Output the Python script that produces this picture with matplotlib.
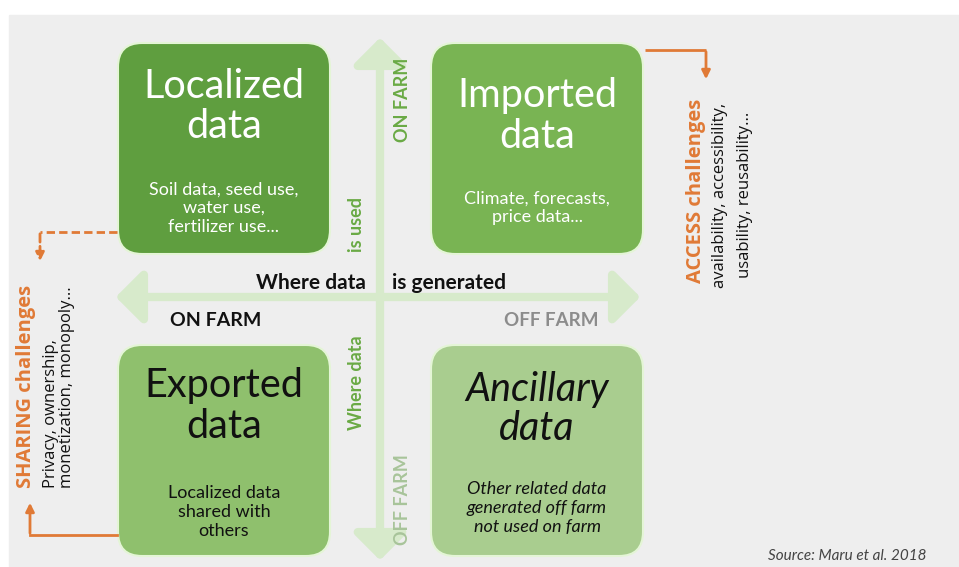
import matplotlib.pyplot as plt
from matplotlib.patches import FancyBboxPatch, FancyArrowPatch, Rectangle

plt.rcParams['font.family'] = ['Lato', 'DejaVu Sans']

# quadrant contents
titles = ["Localized\ndata", "Imported\ndata", "Exported\ndata", "Ancillary\ndata"]
subtitles = ["Soil data, seed use,\nwater use,\nfertilizer use...",
             "Climate, forecasts,\nprice data...",
             "Localized data\nshared with\nothers",
             "Other related data\ngenerated off farm\nnot used on farm"]
box_colors = ["#5f9e3f", "#79b453", "#8fc06d", "#a9cd8f"]
text_colors = ["white", "white", "#111111", "#111111"]
italic = [False, False, False, True]

axis_v = ["ON FARM", "is used", "Where data", "OFF FARM"]
axis_h = ["Where data", "is generated", "ON FARM", "OFF FARM"]

access_title = "ACCESS challenges"
access_lines = ["availability, accessibility,", "usability, reusability..."]
sharing_title = "SHARING challenges"
sharing_lines = ["Privacy, ownership,", "monetization, monopoly..."]
source = "Source: Maru et al. 2018"

orange = "#e07a36"
pale = "#d7eacb"
side_font = ["Open Sans", "DejaVu Sans"]

fig = plt.figure(figsize=(9.59, 5.67), dpi=100)
ax = fig.add_axes([0, 0, 1, 1])
ax.set_xlim(0, 959)
ax.set_ylim(567, 0)
ax.axis("off")

ax.add_patch(Rectangle((9, 15), 950, 552, color="#eeeeee", zorder=0))

# big two-headed arrows
ax.add_patch(FancyArrowPatch((113, 297), (643, 297), arrowstyle="<|-|>,head_length=1.0,head_width=1.0",
                             mutation_scale=16, lw=6, color=pale, zorder=1))
ax.add_patch(FancyArrowPatch((380, 35), (380, 563), arrowstyle="<|-|>,head_length=1.0,head_width=1.0",
                             mutation_scale=16, lw=6, color=pale, zorder=1))

# boxes
lefts = [118, 431, 118, 431]
tops = [43, 43, 345, 345]
title_y = [106, 116, 406, 409]
sub_y = [208, 208, 512, 508]
for i in range(4):
    ax.add_patch(FancyBboxPatch((lefts[i], tops[i]), 212, 211,
                                boxstyle="round,pad=0,rounding_size=24",
                                fc=box_colors[i], ec="#e4f5d6", lw=1.5, zorder=2))
    cx = lefts[i] + 106
    style = "italic" if italic[i] else "normal"
    ax.text(cx, title_y[i], titles[i], ha="center", va="center", fontsize=28.5,
            color=text_colors[i], style=style, linespacing=1.1, zorder=3)
    ax.text(cx, sub_y[i], subtitles[i], ha="center", va="center", fontsize=13,
            color=text_colors[i], style=style, linespacing=1.2, zorder=3)

# axis labels
green = "#6aaa45"
vx = [403, 357, 357, 403]
vy = [100, 225, 383, 500]
vcol = [green, green, green, "#a8c49a"]
for lab, x, y, c in zip(axis_v, vx, vy, vcol):
    ax.text(x, y, lab, rotation=90, ha="center", va="center", fontsize=13,
            fontweight="bold", color=c, zorder=3)

ax.text(366, 283, axis_h[0], ha="right", va="center", fontsize=15, fontweight="bold", color="#111111")
ax.text(392, 283, axis_h[1], ha="left", va="center", fontsize=15, fontweight="bold", color="#111111")
ax.text(216, 320, axis_h[2], ha="center", va="center", fontsize=14, fontweight="bold", color="#111111")
ax.text(551, 320, axis_h[3], ha="center", va="center", fontsize=13.5, fontweight="bold", color="#8c8c8c")

# access challenges
ax.plot([645, 706], [50, 50], color=orange, lw=2, solid_capstyle="butt")
ax.annotate("", xy=(706, 82), xytext=(706, 49),
            arrowprops=dict(arrowstyle="-|>,head_length=0.5,head_width=0.25", color=orange, lw=2))
ax.text(696, 191, access_title, rotation=90, ha="center", va="center", fontsize=14.5,
        fontweight="bold", color=orange, family=side_font)
for x, line in zip([720, 745], access_lines):
    ax.text(x, 195, line, rotation=90, ha="center", va="center", fontsize=12, color="#111111",
            family=side_font)

# sharing challenges
ax.plot([117, 40], [232, 232], color=orange, lw=2, ls=(0, (3, 1.5)))
ax.annotate("", xy=(40, 264), xytext=(40, 231),
            arrowprops=dict(arrowstyle="-|>,head_length=0.5,head_width=0.25", color=orange, lw=2,
                            linestyle=(0, (3, 1.5))))
ax.plot([117, 30], [535, 535], color=orange, lw=2)
ax.annotate("", xy=(30, 500), xytext=(30, 536),
            arrowprops=dict(arrowstyle="-|>,head_length=0.5,head_width=0.25", color=orange, lw=2))
ax.text(26, 488, sharing_title, rotation=90, ha="center", va="bottom", fontsize=14.5,
        fontweight="bold", color=orange, family=side_font)
for x, line in zip([51, 67], sharing_lines):
    ax.text(x, 488, line, rotation=90, ha="center", va="bottom", fontsize=12, color="#111111",
            family=side_font)

ax.text(768, 549, source, ha="left", va="top", fontsize=11, color="#444444", style="italic")

fig.savefig("out.png", dpi=100)
